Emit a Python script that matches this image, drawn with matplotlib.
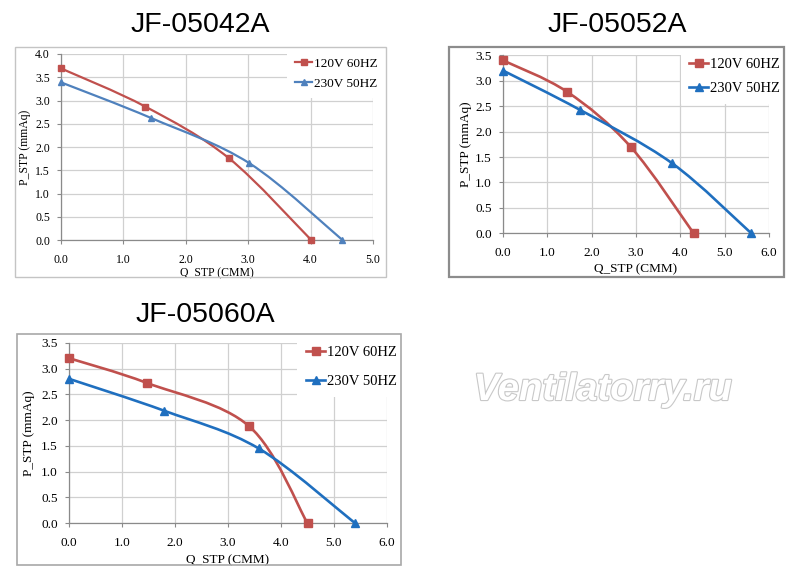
import numpy as np
import matplotlib.pyplot as plt
from matplotlib.path import Path
from matplotlib.patches import PathPatch, Rectangle
from matplotlib.lines import Line2D
import matplotlib.patheffects as pe

titles = ["JF-05042A", "JF-05052A", "JF-05060A"]
series_names = ["120V 60HZ", "230V 50HZ"]

# JF-05042A
q_05042_120 = [0.0, 1.35, 2.69, 4.01]
p_05042_120 = [3.69, 2.87, 1.76, 0.0]
q_05042_230 = [0.0, 1.45, 3.02, 4.51]
p_05042_230 = [3.39, 2.62, 1.65, 0.0]

# JF-05052A
q_05052_120 = [0.0, 1.45, 2.88, 4.30]
p_05052_120 = [3.40, 2.78, 1.70, 0.0]
q_05052_230 = [0.0, 1.73, 3.81, 5.60]
p_05052_230 = [3.20, 2.43, 1.38, 0.0]

# JF-05060A
q_05060_120 = [0.0, 1.47, 3.40, 4.50]
p_05060_120 = [3.20, 2.72, 1.88, 0.0]
q_05060_230 = [0.0, 1.80, 3.58, 5.40]
p_05060_230 = [2.80, 2.18, 1.45, 0.0]

RED = "#C0504D"
serif = ["Liberation Serif", "DejaVu Serif"]
sans = ["Liberation Sans", "DejaVu Sans"]


def smooth_path(x, y):
    # excel-like smoothed line: catmull-rom turned into cubic bezier segments
    pts = np.column_stack([x, y]).astype(float)
    ext = np.vstack([pts[0], pts, pts[-1]])
    verts = [pts[0]]
    codes = [Path.MOVETO]
    for i in range(1, len(ext) - 2):
        p0, p1, p2, p3 = ext[i - 1], ext[i], ext[i + 1], ext[i + 2]
        verts += [p1 + (p2 - p0) / 6.0, p2 - (p3 - p1) / 6.0, p2]
        codes += [Path.CURVE4] * 3
    return Path(verts, codes)


def draw_chart(fig, rect, frame, title, title_xy, series, xmax, ymax,
               blue, fs, lw, ms, leg_anchor, leg_space, frame_col, frame_lw,
               xpad, ypad):
    fig.add_artist(Rectangle((frame[0], frame[1]), frame[2], frame[3],
                             transform=fig.transFigure, fill=False,
                             edgecolor=frame_col, linewidth=frame_lw))
    fig.text(title_xy[0], title_xy[1], title, ha="center", va="center",
             fontsize=20.5, family=sans)

    ax = fig.add_axes(rect)
    colors = [RED, blue]
    markers = ["s", "^"]
    handles = []
    for (qx, py), c, m, name in zip(series, colors, markers, series_names):
        ax.add_patch(PathPatch(smooth_path(qx, py), fill=False, edgecolor=c,
                               linewidth=lw, zorder=3, capstyle="round"))
        ax.plot(qx, py, linestyle="none", marker=m, color=c, markersize=ms,
                zorder=4, clip_on=False)
        handles.append(Line2D([], [], color=c, linewidth=lw, marker=m,
                              markersize=ms, label=name))

    ax.set_xlim(0, xmax)
    ax.set_ylim(0, ymax)
    ax.set_xticks(np.arange(0, xmax + 0.01, 1.0))
    ax.set_yticks(np.arange(0, ymax + 0.01, 0.5))
    ax.set_xticklabels(["%.1f" % v for v in ax.get_xticks()], family=serif, fontsize=fs)
    ax.set_yticklabels(["%.1f" % v for v in ax.get_yticks()], family=serif, fontsize=fs)
    ax.grid(True, color="#D0D0D0", linewidth=0.9)
    ax.set_axisbelow(True)
    for s in ["top", "right"]:
        ax.spines[s].set_visible(False)
    for s in ["left", "bottom"]:
        ax.spines[s].set_color("#8A8A8A")
        ax.spines[s].set_linewidth(0.9)
    ax.tick_params(axis="both", direction="out", length=3, color="#8A8A8A")
    ax.tick_params(axis="y", pad=5)
    ax.tick_params(axis="x", pad=7)
    ax.set_xlabel("Q_STP (CMM)", family=serif, fontsize=fs, labelpad=xpad)
    ax.set_ylabel("P_STP (mmAq)", family=serif, fontsize=fs, labelpad=ypad)

    leg = ax.legend(handles=handles, loc="upper right", bbox_to_anchor=leg_anchor,
                    prop={"family": serif, "size": fs + 1}, handlelength=1.3,
                    handletextpad=0.1, labelspacing=leg_space, borderpad=0.6,
                    frameon=True, fancybox=False, facecolor="white",
                    edgecolor="none", framealpha=1.0)
    leg.set_zorder(5)
    return ax


fig = plt.figure(figsize=(8, 5.83), dpi=100)
fig.patch.set_facecolor("white")

draw_chart(fig, [61 / 800, 1 - 240 / 583, 312 / 800, 186 / 583],
           [15 / 800, 1 - 277 / 583, 371 / 800, 230 / 583],
           titles[0], (200 / 800, 1 - 25 / 583),
           [(q_05042_120, p_05042_120), (q_05042_230, p_05042_230)],
           5, 4, "#4F81BD", 8.5, 1.6, 5, (1.06, 1.06), 0.6, "#C4C4C4", 1.0,
           1, 3)

draw_chart(fig, [503 / 800, 1 - 233.3 / 583, 266 / 800, 178 / 583],
           [449 / 800, 1 - 277 / 583, 335 / 800, 230 / 583],
           titles[1], (617 / 800, 1 - 25 / 583),
           [(q_05052_120, p_05052_120), (q_05052_230, p_05052_230)],
           6, 3.5, "#1F6FBF", 9.5, 1.9, 6, (1.10, 1.075), 0.75, "#8C8C8C", 1.6,
           3, 2)

draw_chart(fig, [69 / 800, 1 - 523.3 / 583, 318 / 800, 180.6 / 583],
           [17 / 800, 1 - 565 / 583, 384 / 800, 231 / 583],
           titles[2], (205 / 800, 1 - 315 / 583),
           [(q_05060_120, p_05060_120), (q_05060_230, p_05060_230)],
           6, 3.5, "#1F6FBF", 9.5, 1.9, 6, (1.08, 1.07), 1.05, "#A8A8A8", 1.2,
           4, 4.5)

wm = fig.text(603 / 800, 1 - 400 / 583, "Ventilatorry.ru", ha="center", va="baseline",
              fontsize=27.5, family=sans, weight="bold", style="italic", color="white")
wm.set_path_effects([pe.Stroke(linewidth=1.6, foreground="#C8C8C8"), pe.Normal()])

fig.savefig("out.png", dpi=100, facecolor="white")
